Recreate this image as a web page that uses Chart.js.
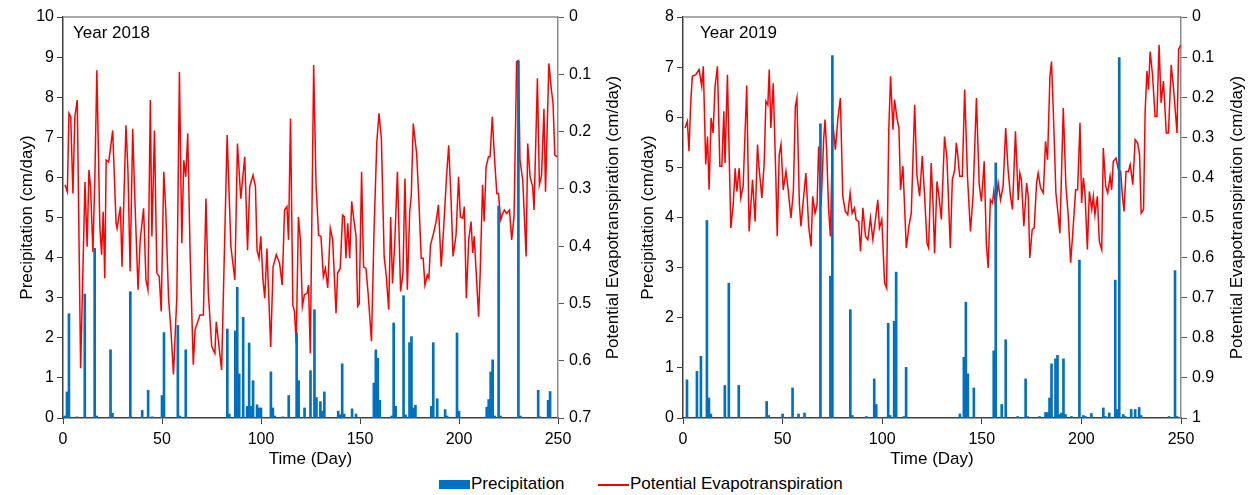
<!DOCTYPE html>
<html>
<head>
<meta charset="utf-8">
<script src="https://cdn.jsdelivr.net/npm/chart.js@4.4.1/dist/chart.umd.min.js"></script>
<style>
body { margin: 0; background: #fff; width: 1253px; height: 495px; position: relative; overflow: hidden;
       font-family: "Liberation Sans", Arial, sans-serif; }
#w1 { position: absolute; left: 0; top: 0; width: 630px; height: 470px; }
#w2 { position: absolute; left: 630px; top: 0; width: 623px; height: 470px; }
.lg { position: absolute; font-size: 17px; color: #000; line-height: 20px; white-space: nowrap; }
</style>
</head>
<body>
<div id="w1"><canvas id="c1"></canvas></div>
<div id="w2"><canvas id="c2"></canvas></div>
<div style="position:absolute;left:439px;top:480px;width:31px;height:9px;background:#0070C0"></div>
<div class="lg" style="left:471px;top:474px">Precipitation</div>
<div style="position:absolute;left:598px;top:484px;width:31px;height:1.5px;background:#FF0000"></div>
<div class="lg" style="left:630px;top:474px">Potential Evapotranspiration</div>
<script>
// precipitation [day, cm/day]
const prec2018 = [[1,0.05],[2,0.65],[3,2.6],[7,0.03],[11,3.09],[16,4.23],[17,0.05],[24,1.7],[25,0.12],[34,3.15],
  [40,0.19],[43,0.69],[45,0.03],[50,0.56],[51,2.13],[58,2.31],[59,0.05],[62,1.7],[83,2.22],[84,0.1],[87,2.17],
  [88,3.26],[89,1.1],[91,2.51],[93,0.29],[94,1.87],[95,0.29],[96,0.93],[98,0.33],[99,0.25],[100,0.25],[105,1.15],
  [106,0.25],[107,0.05],[111,0.03],[114,0.56],[118,2.12],[119,0.93],[122,0.25],[125,1.18],[127,2.7],[128,0.51],
  [130,0.41],[131,0.17],[132,0.65],[139,0.17],[140,0.08],[141,1.35],[142,0.1],[146,0.23],[148,0.1],[157,0.87],
  [158,1.7],[159,1.49],[160,0.44],[166,0.05],[167,2.37],[168,0.29],[172,3.05],[173,0.08],[175,1.88],[176,2.03],
  [177,0.25],[178,0.32],[186,0.29],[187,1.88],[189,0.48],[193,0.21],[194,0.05],[199,2.12],[200,0.17],[214,0.27],
  [215,0.46],[216,1.15],[217,1.45],[218,0.05],[220,5.29],[221,0.05],[230,8.9],[231,0.05],[240,0.69],[241,0.03],
  [245,0.44],[246,0.66]];
const prec2019 = [[2,0.76],[7,0.93],[9,1.23],[12,3.94],[13,0.4],[14,0.08],[21,0.65],[23,2.69],[28,0.65],[42,0.33],
  [43,0.05],[50,0.08],[55,0.6],[58,0.08],[61,0.1],[69,5.87],[74,2.83],[75,7.23],[84,2.16],[85,0.05],[92,0.03],
  [96,0.78],[97,0.27],[103,1.89],[104,0.05],[106,1.93],[107,2.91],[111,0.03],[112,1.01],[139,0.08],[141,1.21],
  [142,2.31],[143,0.88],[146,0.6],[156,1.34],[157,5.09],[160,0.27],[162,1.56],[168,0.03],[172,0.78],[173,0.03],
  [179,0.03],[182,0.11],[183,0.11],[184,0.4],[185,1.08],[187,1.18],[188,1.25],[189,0.07],[190,0.1],[191,1.18],
  [192,0.07],[195,0.03],[199,3.15],[201,0.05],[202,0.03],[205,0.09],[211,0.2],[212,0.03],[214,0.1],[217,2.75],
  [218,0.17],[219,7.19],[221,0.07],[222,0.03],[225,0.17],[227,0.17],[229,0.21],[230,0.05],[244,0.03],[247,2.94],
  [248,0.03]];

// potential evapotranspiration [day, cm/day]
const pet2018 = [[1,.293],[2.2,.305],[3,.168],[3.9,.174],[5,.308],[6,.174],[7.2,.145],[8.9,.613],[11.1,.288],
  [12.2,.401],[13.1,.267],[13.9,.296],[15.1,.41],[16.1,.279],[17.1,.093],[18.6,.366],[19.5,.415],[20.3,.34],
  [21.1,.456],[21.8,.25],[23.1,.253],[25.1,.198],[26.8,.36],[27.3,.369],[29,.331],[29.8,.436],[31.8,.189],
  [32.8,.267],[33.9,.444],[35.2,.195],[36.2,.308],[37.9,.476],[39,.389],[40.7,.334],[41.9,.459],[42.9,.476],
  [44.1,.145],[44.9,.383],[46.2,.198],[47.4,.447],[48.6,.453],[49.6,.514],[50.9,.27],[51.9,.337],[53.3,.491],
  [54.5,.546],[55.8,.624],[57.5,.488],[58.8,.096],[60,.395],[61,.25],[62,.279],[63,.203],[64.2,.412],[65.8,.607],
  [66.7,.546],[69.2,.52],[70.9,.52],[72.2,.317],[73.4,.482],[75.1,.575],[76.7,.587],[77.4,.532],[78.4,.563],
  [80.1,.616],[82.9,.206],[84.8,.401],[86.8,.459],[88.1,.221],[89.8,.317],[91.8,.244],[93.2,.407],[94.3,.296],
  [96,.276],[97.2,.296],[98,.407],[99,.421],[99.9,.383],[101,.459],[101.9,.491],[103,.404],[104.9,.576],
  [106.1,.436],[107.7,.415],[109.4,.43],[110.7,.468],[111.9,.337],[113.1,.331],[113.9,.389],[114.9,.177],
  [116.1,.503],[116.9,.514],[117.8,.569],[118.9,.349],[119.9,.389],[120.9,.505],[121.9,.485],[123.3,.482],
  [124,.468],[124.9,.587],[126.6,.084],[127.8,.293],[129.1,.381],[130.3,.383],[131.5,.453],[132.5,.439],
  [133.7,.473],[135,.369],[136.2,.389],[137.9,.517],[138.7,.447],[140,.439],[141.2,.346],[142.1,.349],
  [142.9,.421],[143.8,.36],[144.8,.421],[145.8,.322],[146.8,.351],[148,.383],[148.8,.505],[149.6,.5],
  [150.8,.27],[151.8,.436],[153,.439],[154.1,.482],[155.8,.566],[157.1,.372],[158.5,.218],[159.6,.168],
  [160.8,.212],[162.2,.418],[163.3,.453],[164.5,.511],[165.5,.349],[166.4,.465],[167.5,.398],[168.9,.27],
  [170.5,.479],[171.7,.447],[172.7,.282],[173.9,.476],[175.1,.34],[175.9,.311],[176.9,.186],[178.6,.238],
  [179.7,.317],[180.9,.421],[181.9,.421],[182.8,.468],[184,.45],[184.8,.456],[185.6,.398],[187.3,.375],
  [188.6,.354],[189.6,.328],[191,.436],[192.3,.366],[193.7,.279],[194.8,.224],[196,.32],[197,.418],[198.5,.381],
  [199.8,.279],[200.7,.349],[201.9,.351],[202.7,.331],[203.7,.491],[204.9,.389],[206.1,.357],[206.9,.412],
  [207.7,.383],[208.7,.447],[209.9,.523],[210.7,.447],[211.9,.293],[212.7,.357],[213.7,.261],[214.9,.244],
  [215.7,.244],[216.8,.174],[218,.25],[219.1,.308],[219.9,.308],[221.1,.354],[222.1,.343],[222.9,.337],
  [224.1,.343],[225.5,.337],[226.6,.389],[227.8,.349],[229.1,.078],[230,.076],[230.8,.25],[232.2,.285],
  [233.9,.418],[234.7,.221],[235.9,.279],[237.2,.296],[237.9,.337],[239.6,.107],[240.6,.293],[241.7,.276],
  [242.9,.16],[243.7,.305],[245.4,.081],[246.7,.128],[247.5,.151],[248.4,.241],[249.7,.244]];
const pet2019 = [[1,.277],[2.2,.26],[3,.335],[3.9,.21],[4.7,.148],[6.4,.144],[8.1,.131],[9.4,.173],[10.2,.123],
  [11.4,.368],[12.3,.298],[13.1,.431],[14.1,.252],[15.1,.289],[16.1,.173],[17.3,.123],[18.5,.372],[19.5,.372],
  [20.5,.235],[21.1,.364],[22.3,.144],[24,.526],[25.2,.468],[26.2,.377],[27,.435],[28.2,.377],[29,.451],
  [30.2,.422],[32,.171],[33.2,.535],[34.9,.406],[36.2,.51],[37.4,.318],[38.2,.377],[39.6,.451],[40.8,.36],
  [41.6,.21],[42.6,.219],[43.3,.131],[44.1,.277],[45.3,.165],[46.6,.397],[47.3,.547],[48.3,.343],[49.2,.318],
  [50.3,.431],[51.7,.385],[52.8,.431],[54.2,.501],[55.4,.435],[56.4,.223],[57.2,.202],[58.4,.464],[59.2,.522],
  [60.6,.447],[61.7,.389],[63.1,.522],[64.3,.572],[65.1,.447],[66.3,.489],[67.3,.468],[68.1,.323],[69.3,.472],
  [70.6,.306],[71.3,.256],[72.1,.331],[73.1,.48],[74,.547],[75.2,.264],[76.5,.331],[77.7,.256],[79,.202],
  [80.2,.447],[81.5,.485],[82.7,.493],[83.9,.439],[84.9,.489],[86.1,.476],[86.9,.505],[88.2,.51],[89.1,.584],
  [90.3,.476],[91.6,.547],[92.8,.555],[94.1,.501],[95.3,.555],[96.6,.505],[97.8,.456],[98.6,.526],[99.8,.505],
  [101.2,.663],[102.2,.676],[103.3,.281],[104.2,.148],[105.4,.281],[106.2,.206],[107.4,.252],[108.4,.277],
  [109.2,.431],[110.4,.372],[112.1,.576],[113.4,.522],[114.6,.489],[116.3,.219],[117.4,.393],[118.8,.447],
  [120.1,.347],[121.3,.447],[122.5,.564],[123.3,.576],[124.6,.364],[125.5,.464],[126.3,.589],[127.5,.41],
  [128.5,.447],[129.7,.505],[131.3,.298],[132.5,.352],[134.2,.576],[135.2,.406],[136.4,.381],[137.2,.314],
  [138,.347],[138.9,.397],[140.2,.397],[141.4,.181],[142.8,.397],[144.3,.535],[145.6,.447],[147.3,.202],
  [148.7,.418],[149.8,.46],[151.2,.36],[152.3,.568],[153.2,.626],[154.3,.456],[155.4,.464],[156,.435],
  [157,.472],[158.2,.414],[159.4,.456],[160.7,.422],[162,.277],[163.2,.381],[164.4,.447],[165.4,.48],
  [166.9,.285],[168.3,.456],[169.1,.389],[169.9,.406],[171.1,.522],[172.5,.414],[173.3,.447],[174.1,.601],
  [175.3,.53],[176.3,.526],[177.5,.414],[178.3,.389],[179.5,.426],[180.9,.439],[182,.31],[183,.356],
  [184.2,.148],[185,.111],[185.9,.235],[187.2,.439],[188.4,.497],[189.2,.539],[190.9,.227],[192.2,.418],
  [193.4,.497],[194.6,.613],[195.9,.522],[197.1,.431],[198.1,.431],[199.3,.264],[200.1,.464],[201,.401],
  [201.8,.439],[203,.58],[204,.435],[205.2,.48],[206,.447],[206.8,.493],[208,.447],[209,.559],[210.2,.58],
  [211,.327],[212.2,.422],[213.2,.439],[214.4,.397],[215.2,.431],[216,.36],[217.4,.352],[218.6,.381],
  [219.7,.385],[220.6,.447],[221.4,.485],[222.4,.385],[223.6,.385],[224.5,.368],[225.8,.418],[227,.306],
  [228.2,.314],[229.2,.343],[230,.489],[231.2,.48],[232,.235],[232.9,.135],[233.7,.181],[234.5,.086],
  [235.7,.144],[237,.248],[237.9,.248],[239,.069],[240,.214],[241.2,.16],[242.6,.289],[243.7,.289],
  [245.1,.119],[246.3,.181],[248,.289],[248.8,.081],[250,.069]];

const dayTicks = [0, 50, 100, 150, 200, 250];
const petTitle = 'Potential Evapotranspiration (cm/day)';

Chart.defaults.font.family = '"Liberation Sans", Arial, sans-serif';
Chart.defaults.color = '#000';

// top border, year label and the right-hand title (reads bottom to top)
const frame = {
  id: 'frame',
  afterDraw(chart, args, opts) {
    const { ctx, chartArea: a } = chart;
    ctx.save();
    ctx.strokeStyle = '#8c8c8c';
    ctx.lineWidth = 1.5;
    ctx.beginPath();
    ctx.moveTo(a.left, a.top);
    ctx.lineTo(a.right, a.top);
    ctx.stroke();
    ctx.fillStyle = '#000';
    ctx.font = '17px "Liberation Sans", Arial, sans-serif';
    ctx.fillText(opts.text, a.left + opts.dx, a.top + 21);
    ctx.translate(opts.rx, (a.top + a.bottom) / 2);
    ctx.rotate(-Math.PI / 2);
    ctx.textAlign = 'center';
    ctx.textBaseline = 'middle';
    ctx.fillText(petTitle, 0, 0);
    ctx.restore();
  }
};

function makeChart(id, prec, pet, pMax, eMax, year, s) {
  return new Chart(document.getElementById(id), {
    type: 'bar',
    data: {
      datasets: [{
        type: 'bar',
        label: 'Precipitation',
        data: prec.map(p => ({ x: p[0], y: p[1] })),
        backgroundColor: '#0070C0',
        barThickness: 2,
        yAxisID: 'y',
        order: 0
      }, {
        type: 'line',
        label: 'Potential Evapotranspiration',
        data: pet.map(p => ({ x: p[0], y: p[1] })),
        borderColor: '#FF0000',
        borderWidth: 1.5,
        pointRadius: 0,
        tension: 0,
        yAxisID: 'y1',
        order: 1
      }]
    },
    options: {
      responsive: true,
      maintainAspectRatio: false,
      animation: false,
      layout: { padding: { top: 17, left: 0, right: 0, bottom: 0 } },
      plugins: {
        legend: { display: false },
        tooltip: { enabled: false },
        frame: { text: year, dx: s.dx, rx: s.rx }
      },
      scales: {
        x: {
          type: 'linear', min: 0, max: 250, offset: false,
          afterBuildTicks: sc => { sc.ticks = dayTicks.map(v => ({ value: v })); },
          ticks: { font: { size: 16 }, padding: 6, maxRotation: 0 },
          grid: { drawOnChartArea: false, tickLength: 6, color: '#404040', offset: false },
          border: { color: '#404040', width: 1.5 },
          title: { display: true, text: 'Time (Day)', font: { size: 17 }, padding: { top: 0, bottom: 0 } },
          afterFit: sc => { sc.height = 52; }
        },
        y: {
          position: 'left', min: 0, max: pMax,
          ticks: { stepSize: 1, font: { size: 16 }, padding: 3 },
          grid: { drawOnChartArea: false, tickLength: 6, color: '#404040' },
          border: { color: '#404040', width: 1.5 },
          title: { display: true, text: 'Precipitation (cm/day)', font: { size: 17 }, padding: { top: s.lt, bottom: 0 } },
          afterFit: sc => { sc.width = s.lw; }
        },
        y1: {
          position: 'right', reverse: true, min: 0, max: eMax,
          ticks: { stepSize: 0.1, font: { size: 16 }, padding: 5, callback: v => String(Math.round(v * 10) / 10) },
          grid: { drawOnChartArea: false, tickLength: 6, color: '#595959' },
          border: { color: '#8c8c8c', width: 1.5 },
          afterFit: sc => { sc.width = s.rw; }
        }
      }
    },
    plugins: [frame]
  });
}

makeChart('c1', prec2018, pet2018, 10, 0.7, 'Year 2018', { lw: 63, rw: 72, lt: 17, dx: 10, rx: 613 });
makeChart('c2', prec2019, pet2019, 8, 1, 'Year 2019', { lw: 53, rw: 72, lt: 8, dx: 17, rx: 607 });
</script>
</body>
</html>
